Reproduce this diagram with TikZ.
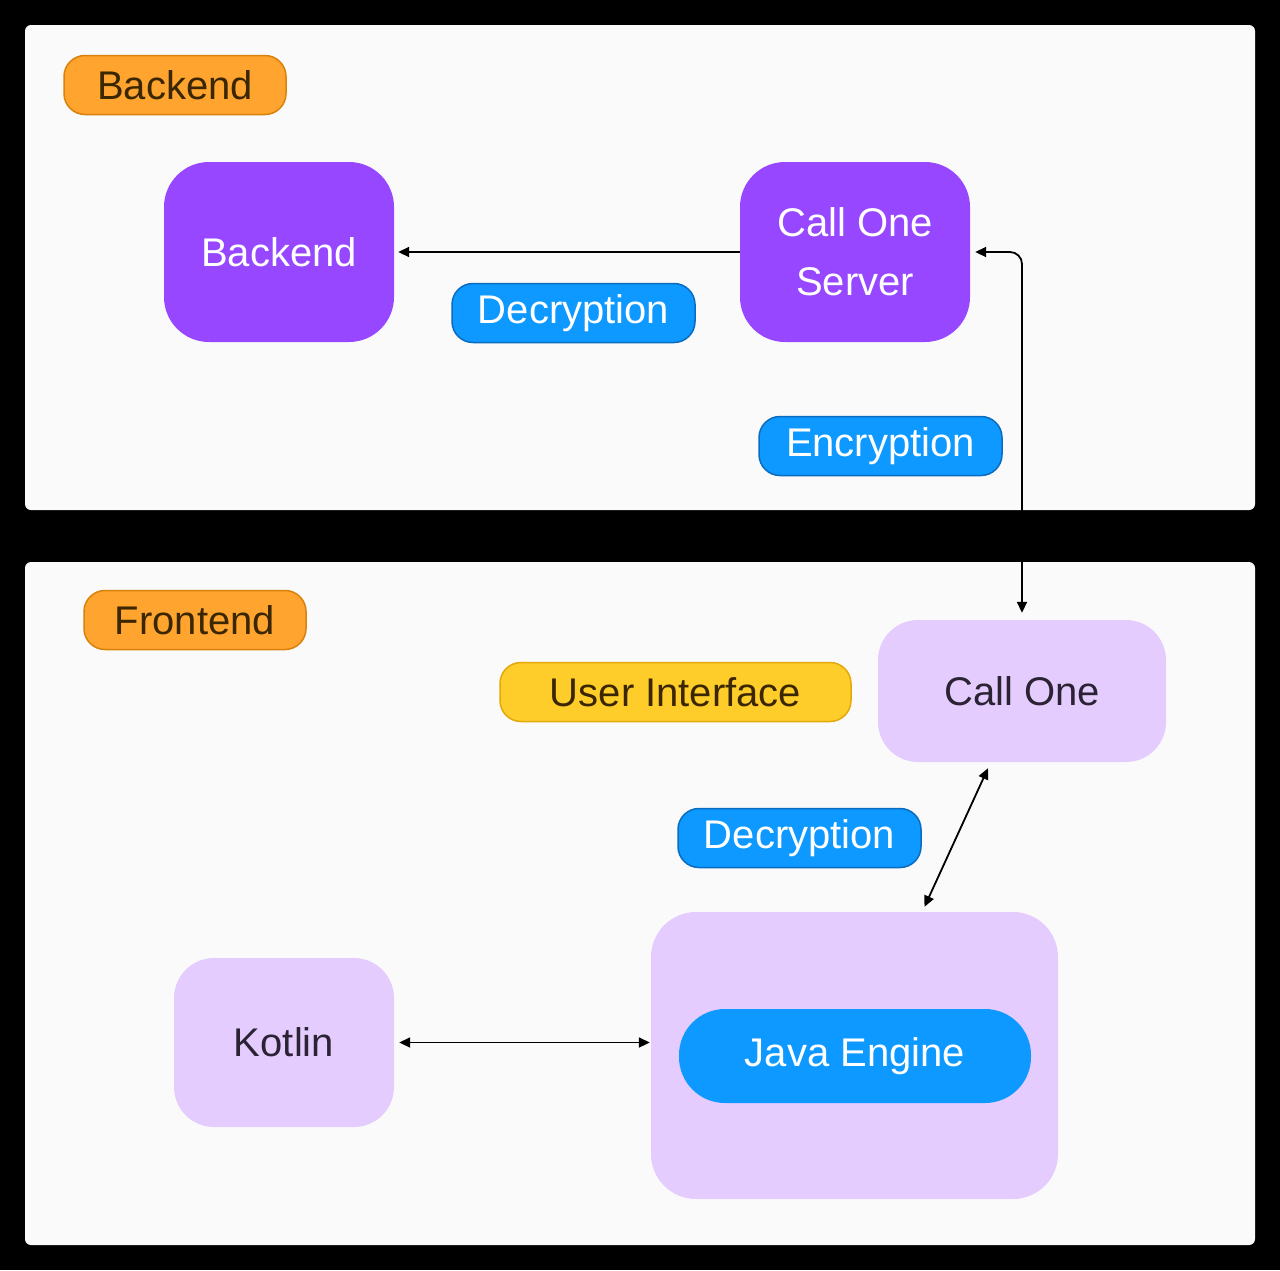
\documentclass[tikz,border=0pt]{standalone}
\usepackage{fontspec}
\setmainfont{Liberation Sans}
\usetikzlibrary{arrows.meta}
\definecolor{panel}{HTML}{FAFAFA}
\definecolor{violet}{HTML}{9747FF}
\definecolor{lilac}{HTML}{E4CCFF}
\definecolor{sky}{HTML}{0D99FF}
\definecolor{skyline}{HTML}{0A6CC0}
\definecolor{amber}{HTML}{FFA42E}
\definecolor{amberline}{HTML}{D9820B}
\definecolor{lemon}{HTML}{FFCD29}
\definecolor{lemonline}{HTML}{E3A90A}
\definecolor{brownish}{HTML}{3A2600}
\definecolor{ink}{HTML}{2B2233}
\begin{document}
\begin{tikzpicture}[x=1pt,y=-1pt,
  every node/.style={font=\fontsize{40}{59}\selectfont,align=center,inner sep=0pt},
  tag/.style={draw=#1line,line width=1.5pt,rounded corners=21pt,minimum height=59pt},
  bigbox/.style={fill=violet,text=white,rounded corners=45pt,minimum width=230pt,minimum height=180pt},
  softbox/.style={fill=lilac,text=ink,rounded corners=40pt},
  link/.style={line width=1.8pt,-{Triangle[length=11pt,width=10pt]}},
  twoway/.style={line width=1.8pt,{Triangle[length=11pt,width=10pt]}-{Triangle[length=11pt,width=10pt]}}]
  \useasboundingbox (0,0) rectangle (1280,1270);
  \fill[black] (0,0) rectangle (1280,1270);
  % the two panels
  \fill[panel,rounded corners=6pt] (25,25) rectangle (1255,510);
  \fill[panel,rounded corners=6pt] (25,562) rectangle (1255,1245);
  % backend side
  \node[tag=amber,fill=amber,text=brownish,minimum width=222pt] (backtag) at (175,85) {Backend};
  \node[bigbox] (backend) at (279,252) {Backend};
  \node[bigbox] (server) at (855,252) {Call One\\Server};
  \node[tag=sky,fill=sky,text=white,minimum width=243pt] (decrypt) at (573.5,313) {Decryption};
  \node[tag=sky,fill=sky,text=white,minimum width=243pt] (encrypt) at (880.5,446) {Encryption};
  % frontend side
  \node[tag=amber,fill=amber,text=brownish,minimum width=222pt] (fronttag) at (195,620) {Frontend};
  \node[tag=lemon,fill=lemon,text=brownish,minimum width=351pt] (ui) at (675.5,692) {User Interface};
  \node[softbox,minimum width=288pt,minimum height=142pt] (callone) at (1022,691) {Call One};
  \node[tag=sky,fill=sky,text=white,minimum width=243pt] (decrypt2) at (799.5,838) {Decryption};
  \node[softbox,rounded corners=45pt,minimum width=407pt,minimum height=287pt] (java) at (854.5,1055.5) {};
  \node[fill=sky,text=white,rounded corners=46pt,minimum width=352pt,minimum height=94pt] (engine) at (855,1056) {Java Engine};
  \node[softbox,minimum width=220pt,minimum height=169pt] (kotlin) at (284,1042.5) {Kotlin};
  % connectors
  \draw[link,shorten >=4pt] (server.west) -- (backend.east);
  \draw[twoway,rounded corners=12pt,shorten <=7pt,shorten >=5pt] (callone.north) |- (server.east);
  \draw[twoway] ([xshift=-34pt,yshift=-6pt]callone.south) -- ([xshift=70pt,yshift=5pt]java.north);
  \draw[twoway,shorten <=5pt,shorten >=1pt] (kotlin.east) -- (kotlin.east -| java.west);
\end{tikzpicture}
\end{document}
